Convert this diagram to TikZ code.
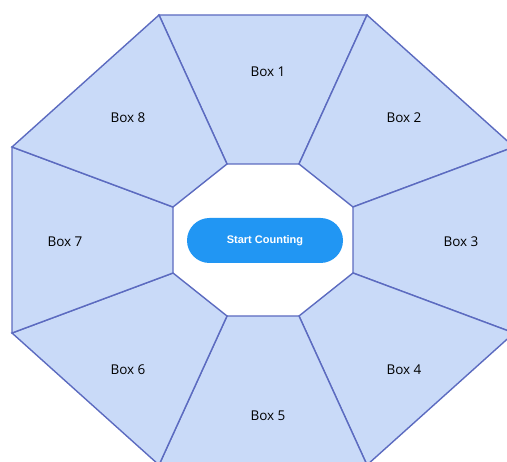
\documentclass[tikz,border=0pt]{standalone}
\usepackage{fontspec}
\setmainfont{Open Sans}
\newfontfamily\btnfont{Liberation Sans}
\usetikzlibrary{shapes.misc}
\definecolor{segfill}{RGB}{201,218,248}
\definecolor{segline}{RGB}{92,107,192}
\definecolor{btnblue}{RGB}{33,150,243}
\tikzset{
  segment/.style={fill=segfill, draw=segline, line width=1.4pt, line join=miter},
  boxlabel/.style={font=\fontsize{13.5}{16}\selectfont, text=black},
  startbtn/.style={rounded rectangle, fill=btnblue, text=white, minimum width=156pt,
    minimum height=45pt, inner sep=0pt, font=\btnfont\bfseries\fontsize{11}{13}\selectfont}
}
\begin{document}
\begin{tikzpicture}[x=1pt,y=-1pt]
\useasboundingbox (0,0) rectangle (507,462);
\clip (0,0) rectangle (507,462);
% outer octagon corners
\coordinate (o1) at (159,15);
\coordinate (o2) at (367,15);
\coordinate (o3) at (514,147);
\coordinate (o4) at (514,333);
\coordinate (o5) at (367,465);
\coordinate (o6) at (159,465);
\coordinate (o7) at (12,333);
\coordinate (o8) at (12,147);
% inner octagon corners
\coordinate (i1) at (227,164);
\coordinate (i2) at (299,164);
\coordinate (i3) at (353,207);
\coordinate (i4) at (353,273);
\coordinate (i5) at (299,316);
\coordinate (i6) at (227,316);
\coordinate (i7) at (173,273);
\coordinate (i8) at (173,207);
% the eight trapezoid segments
\foreach \a/\b in {1/2,2/3,3/4,4/5,5/6,6/7,7/8,8/1}{
  \draw[segment] (o\a) -- (o\b) -- (i\b) -- (i\a) -- cycle;
}
% labels
\node[boxlabel] (b1) at (268,72) {Box 1};
\node[boxlabel] (b2) at (404,118) {Box 2};
\node[boxlabel] (b3) at (461,242) {Box 3};
\node[boxlabel] (b4) at (404,370) {Box 4};
\node[boxlabel] (b5) at (268,416) {Box 5};
\node[boxlabel] (b6) at (128,370) {Box 6};
\node[boxlabel] (b7) at (65,242) {Box 7};
\node[boxlabel] (b8) at (128,118) {Box 8};
% central button
\node[startbtn] (start) at (265,240.5) {Start Counting};
\end{tikzpicture}
\end{document}
